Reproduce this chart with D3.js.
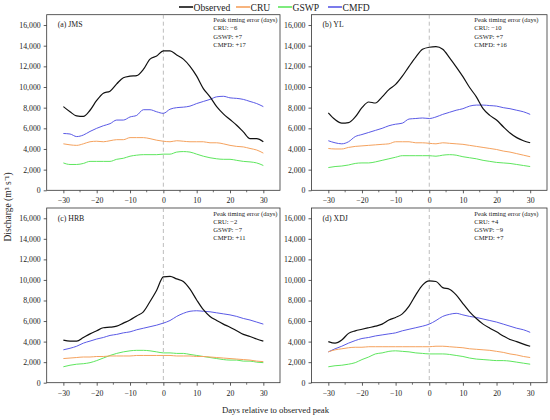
<!DOCTYPE html>
<html>
<head>
<meta charset="utf-8">
<script src="https://cdn.jsdelivr.net/npm/d3@7"></script>
<style>
  body { margin: 0; background: #fff; }
  svg { font-family: "Liberation Serif", "Times New Roman", serif; }
</style>
</head>
<body>
<div id="chart"></div>
<script>
// x positions: days relative to observed peak
var days = [-30, -28, -26, -24, -22, -20, -18, -16, -14, -12, -10, -8, -6, -4, -2, 0,
            2, 4, 6, 8, 10, 12, 14, 16, 18, 20, 22, 24, 26, 28, 30]

var seriesNames = ['Observed', 'CRU', 'GSWP', 'CMFD']
var panelLabels = ['(a) JMS', '(b) YL', '(c) HRB', '(d) XDJ']
var timingCRU = ['\u22126', '\u221210', '\u22122', '+4']
var timingGSWP = ['+7', '+7', '\u22127', '\u22129']
var timingCMFD = ['+17', '+16', '+11', '+7']
var yTicks = [0, 2000, 4000, 6000, 8000, 10000, 12000, 14000, 16000]
var xTicks = [-30, -20, -10, 0, 10, 20, 30]
var xMinorTicks = [-25, -15, -5, 5, 15, 25]

// (a) JMS
var jmsObserved = [8100, 7600, 7200, 7150, 7750, 8700, 9400, 9600, 10300, 10900, 11050, 11100, 11700, 12700, 13000, 13500,
                   13500, 13100, 12700, 12000, 11050, 9850, 9050, 8100, 7400, 6850, 6300, 5650, 5000, 5000, 4700]
var jmsCRU = [4500, 4400, 4350, 4500, 4700, 4750, 4700, 4800, 4900, 4900, 5100, 5100, 5100, 5000, 4850, 4750,
              4700, 4800, 4750, 4700, 4700, 4700, 4600, 4600, 4500, 4350, 4250, 4200, 4050, 3900, 3600]
var jmsGSWP = [2650, 2500, 2500, 2600, 2800, 2800, 2800, 2800, 3000, 3100, 3300, 3400, 3450, 3450, 3450, 3500,
               3500, 3700, 3750, 3700, 3500, 3300, 3150, 3050, 3000, 3000, 2900, 2800, 2750, 2650, 2400]
var jmsCMFD = [5500, 5450, 5200, 5350, 5700, 6000, 6250, 6450, 6800, 6800, 7100, 7250, 7800, 7800, 7600, 7450,
               7850, 8000, 8050, 8150, 8400, 8600, 8800, 9050, 9100, 8950, 8900, 8800, 8600, 8400, 8100]

// (b) YL
var ylObserved = [7500, 6850, 6500, 6550, 7100, 8000, 8550, 8450, 9050, 9750, 10250, 11050, 12000, 12900, 13650, 13850,
                  13900, 13650, 12850, 11950, 11000, 9950, 9050, 7900, 7250, 6800, 6150, 5550, 5100, 4800, 4600]
var ylCRU = [4050, 4000, 4000, 4150, 4250, 4300, 4350, 4400, 4450, 4500, 4700, 4700, 4700, 4600, 4600, 4550,
             4500, 4600, 4550, 4500, 4450, 4350, 4250, 4150, 4050, 3950, 3800, 3700, 3550, 3400, 3250]
var ylGSWP = [2200, 2300, 2350, 2450, 2600, 2650, 2650, 2750, 2900, 3050, 3200, 3350, 3350, 3350, 3350, 3350,
              3300, 3400, 3450, 3400, 3250, 3150, 3050, 2900, 2800, 2700, 2650, 2600, 2500, 2400, 2300]
var ylCMFD = [4800, 4600, 4500, 4700, 5200, 5400, 5600, 5800, 6000, 6250, 6400, 6500, 6900, 6950, 7000, 6950,
              7100, 7350, 7550, 7750, 7900, 8150, 8250, 8250, 8200, 8150, 8000, 7900, 7750, 7600, 7350]

// (c) HRB
var hrbObserved = [4150, 4050, 4050, 4400, 4750, 5050, 5350, 5400, 5500, 5800, 6100, 6500, 6900, 7900, 9000, 10300,
                   10350, 10100, 9850, 9100, 8050, 7100, 6450, 6050, 5700, 5400, 5050, 4700, 4500, 4250, 4050]
var hrbCRU = [2350, 2400, 2450, 2500, 2500, 2550, 2550, 2600, 2600, 2600, 2600, 2650, 2650, 2650, 2650, 2650,
              2650, 2600, 2600, 2600, 2550, 2550, 2500, 2450, 2400, 2350, 2300, 2250, 2200, 2100, 2050]
var hrbGSWP = [1550, 1700, 1800, 1850, 1950, 2150, 2400, 2650, 2850, 3000, 3100, 3150, 3150, 3100, 3000, 2900,
               2900, 2850, 2850, 2750, 2650, 2550, 2450, 2350, 2250, 2200, 2200, 2100, 2100, 2000, 1950]
var hrbCMFD = [3200, 3350, 3550, 3850, 4050, 4250, 4400, 4600, 4700, 4850, 4950, 5150, 5300, 5450, 5600, 5800,
               6050, 6450, 6750, 6950, 7000, 6950, 6900, 6800, 6700, 6600, 6450, 6250, 6100, 5900, 5700]

// (d) XDJ
var xdjObserved = [4000, 3850, 4150, 4800, 5050, 5200, 5350, 5500, 5700, 6100, 6350, 6700, 7450, 8550, 9500, 9900,
                   9850, 9250, 9100, 8550, 7700, 6900, 6250, 5700, 5300, 4950, 4550, 4200, 4000, 3750, 3550]
var xdjCRU = [3000, 3200, 3300, 3400, 3450, 3450, 3500, 3500, 3500, 3500, 3500, 3500, 3500, 3500, 3500, 3500,
              3550, 3550, 3500, 3450, 3400, 3300, 3250, 3200, 3150, 3050, 2950, 2800, 2700, 2550, 2450]
var xdjGSWP = [1550, 1650, 1700, 1800, 1950, 2250, 2500, 2800, 2900, 3050, 3100, 3050, 3000, 2900, 2850, 2800,
               2800, 2800, 2750, 2650, 2550, 2400, 2300, 2250, 2200, 2150, 2150, 2100, 2000, 1900, 1800]
var xdjCMFD = [3000, 3300, 3550, 3850, 4100, 4300, 4400, 4550, 4650, 4750, 4850, 5050, 5200, 5350, 5500, 5700,
               6050, 6450, 6650, 6750, 6600, 6450, 6350, 6200, 6050, 5900, 5700, 5500, 5300, 5150, 4900]

var panelSeries = [
  [jmsObserved, jmsCRU, jmsGSWP, jmsCMFD],
  [ylObserved, ylCRU, ylGSWP, ylCMFD],
  [hrbObserved, hrbCRU, hrbGSWP, hrbCMFD],
  [xdjObserved, xdjCRU, xdjGSWP, xdjCMFD]
]

var colors = ['#111111', '#F5A25E', '#5EE65E', '#5A5AE6']
var widths = [1.2, 1.0, 1.0, 1.0]
var drawOrder = [3, 2, 1, 0]

var width = 550
var height = 420

// panel boxes: [left, right, top, bottom, annotation offset from right]
var boxes = [
  [46.7, 280, 14.7, 190.3, 66.7],
  [311.5, 547, 14.7, 190.3, 72.7],
  [46.7, 280, 208, 382.7, 66.7],
  [311.5, 547, 208, 382.7, 72.7]
]

var svg = d3.select('#chart')
  .append('svg')
  .attr('width', width)
  .attr('height', height)

boxes.forEach(function (b, p) {
  var x = d3.scaleLinear().domain([-35, 35]).range([b[0], b[1]])
  var y = d3.scaleLinear().domain([0, 17000]).range([b[3], b[2]])
  var g = svg.append('g')

  // frame
  g.append('rect')
    .attr('x', b[0]).attr('y', b[2])
    .attr('width', b[1] - b[0]).attr('height', b[3] - b[2])
    .attr('fill', 'none')
    .attr('stroke', '#333')
    .attr('stroke-width', 0.8)

  // y axis
  var yAxis = g.append('g')
    .attr('transform', 'translate(' + b[0] + ',0)')
    .call(d3.axisLeft(y).tickValues(yTicks).tickFormat(d3.format(',')).tickSizeOuter(0).tickSize(3))
  yAxis.select('.domain').remove()
  yAxis.selectAll('text').attr('font-size', 7.8).attr('fill', '#222').attr('font-family', 'Liberation Serif, Times New Roman, serif')
  yAxis.selectAll('line').attr('stroke', '#333').attr('stroke-width', 0.8)

  // x axis
  var xAxis = g.append('g')
    .attr('transform', 'translate(0,' + b[3] + ')')
    .call(d3.axisBottom(x).tickValues(xTicks).tickFormat(d3.format('d')).tickSizeOuter(0).tickSize(3))
  xAxis.select('.domain').remove()
  xAxis.selectAll('text').attr('font-size', 7.8).attr('fill', '#222').attr('dy', '0.9em').attr('font-family', 'Liberation Serif, Times New Roman, serif')
  xAxis.selectAll('line').attr('stroke', '#333').attr('stroke-width', 0.8)

  g.selectAll('.minor')
    .data(xMinorTicks)
    .enter()
    .append('line')
    .attr('x1', function (d) { return x(d) })
    .attr('x2', function (d) { return x(d) })
    .attr('y1', b[3])
    .attr('y2', b[3] + 2)
    .attr('stroke', '#333')
    .attr('stroke-width', 0.7)

  // dashed line at peak
  g.append('line')
    .attr('x1', x(0)).attr('x2', x(0))
    .attr('y1', b[2]).attr('y2', b[3])
    .attr('stroke', '#a0a0a0')
    .attr('stroke-width', 0.7)
    .attr('stroke-dasharray', '4,3')

  var line = d3.line()
    .x(function (d, i) { return x(days[i]) })
    .y(function (d) { return y(d) })
    .curve(d3.curveMonotoneX);

  // draw models first, observed on top
  drawOrder.forEach(function (s) {
    g.append('path')
      .attr('d', line(panelSeries[p][s]))
      .attr('fill', 'none')
      .attr('stroke', colors[s])
      .attr('stroke-width', widths[s])
  })

  g.append('text')
    .attr('x', b[0] + 11)
    .attr('y', b[2] + 12.5)
    .attr('font-size', 7.8)
    .attr('fill', '#222')
    .text(panelLabels[p])

  var notes = ['Peak timing error (days)', 'CRU: ' + timingCRU[p], 'GSWP: ' + timingGSWP[p], 'CMFD: ' + timingCMFD[p]]
  g.selectAll('.note')
    .data(notes)
    .enter()
    .append('text')
    .attr('x', b[1] - b[4])
    .attr('y', function (d, i) { return b[2] + 7.5 + i * 8.2 })
    .attr('font-size', 6.6)
    .attr('fill', '#222')
    .text(function (d) { return d })
})

// legend
var legendX = [179, 236, 278, 328]
var legend = svg.append('g')
seriesNames.forEach(function (name, i) {
  legend.append('line')
    .attr('x1', legendX[i]).attr('x2', legendX[i] + 14)
    .attr('y1', 7).attr('y2', 7)
    .attr('stroke', colors[i])
    .attr('stroke-width', 1.6)
  legend.append('text')
    .attr('x', legendX[i] + 14.5)
    .attr('y', 10.5)
    .attr('font-size', 9.6)
    .attr('fill', '#222')
    .text(name)
})

// axis titles
svg.append('text')
  .attr('transform', 'translate(11,207) rotate(-90)')
  .attr('text-anchor', 'middle')
  .attr('font-size', 9.5)
  .attr('fill', '#222')
  .text('Discharge (m\u00B3 s\u207B\u00B9)')

svg.append('text')
  .attr('x', 275.5)
  .attr('y', 413)
  .attr('text-anchor', 'middle')
  .attr('font-size', 8.7)
  .attr('fill', '#222')
  .text('Days relative to observed peak')
</script>
</body>
</html>
